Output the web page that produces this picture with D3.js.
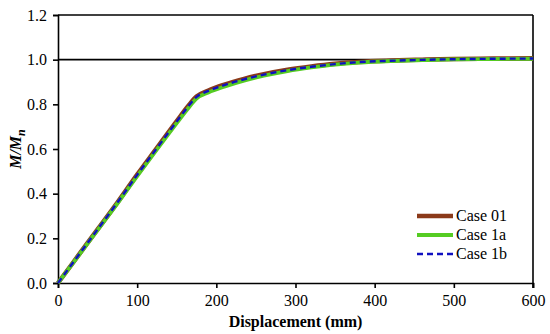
<!DOCTYPE html>
<html>
<head>
<meta charset="utf-8">
<script src="https://cdn.jsdelivr.net/npm/d3@7"></script>
</head>
<body style="margin:0; background:#fff">
<div id="chart"></div>
<script>
  // displacement (mm) and normalised moment M/Mn
  let displacement = [0, 25, 50, 75, 100, 125, 150, 165, 175, 190, 210, 235, 260, 290, 320, 350, 380, 420, 460, 500, 550, 600]
  let case01 = [0, 0.12, 0.24, 0.36, 0.485, 0.605, 0.725, 0.795, 0.835, 0.862, 0.888, 0.914, 0.935, 0.955, 0.97, 0.982, 0.99, 0.996, 1.0, 1.003, 1.005, 1.006]
  let case1a = [0, 0.118, 0.237, 0.356, 0.478, 0.598, 0.716, 0.785, 0.826, 0.853, 0.879, 0.906, 0.928, 0.949, 0.965, 0.978, 0.987, 0.994, 0.998, 1.001, 1.003, 1.004]
  let case1b = [0, 0.12, 0.24, 0.36, 0.484, 0.604, 0.723, 0.793, 0.833, 0.86, 0.886, 0.912, 0.933, 0.953, 0.968, 0.98, 0.989, 0.995, 0.999, 1.002, 1.004, 1.005]
  let xTicks = [0, 100, 200, 300, 400, 500, 600]
  let yTicks = [0, 0.2, 0.4, 0.6, 0.8, 1.0, 1.2]

  let width = 550
  let height = 334
  let margin = {top: 15, right: 17, bottom: 51, left: 58}
  let serif = 'Liberation Serif'

  let svg = d3.select('#chart')
              .append('svg')
                .attr('width', width)
                .attr('height', height)

  let xScale = d3.scaleLinear()
                .domain([0, 600])
                .range([margin.left, width - margin.right])

  let yScale = d3.scaleLinear()
                .domain([0, 1.2])
                .range([height - margin.bottom, margin.top])

  let xAxis = svg.append('g')
                .attr('transform', 'translate(0,' + (height - margin.bottom) + ')')
                .call(d3.axisBottom(xScale).tickValues(xTicks).tickFormat(d3.format('d')).tickSizeOuter(0).tickSize(5).tickPadding(7))

  let yAxis = svg.append('g')
                .attr('transform', 'translate(' + margin.left + ',0)')
                .call(d3.axisLeft(yScale).tickValues(yTicks).tickFormat(d3.format('.1f')).tickSizeOuter(0).tickSize(5).tickPadding(6))

  svg.selectAll('.tick text')
    .style('font-family', serif)
    .style('font-size', '16px')
    .attr('fill', '#000')
  svg.selectAll('.domain, .tick line')
    .attr('stroke', '#000')
    .attr('stroke-width', 1.6)

  // top and right frame
  svg.append('line')
    .attr('x1', xScale(0)).attr('x2', xScale(600))
    .attr('y1', yScale(1.2)).attr('y2', yScale(1.2))
    .attr('stroke', '#000').attr('stroke-width', 1.6)
  svg.append('line')
    .attr('x1', xScale(600)).attr('x2', xScale(600))
    .attr('y1', yScale(1.2)).attr('y2', yScale(0) + 5)
    .attr('stroke', '#000').attr('stroke-width', 1.6)

  // reference line at 1.0
  svg.append('line')
    .attr('x1', xScale(0)).attr('x2', xScale(600))
    .attr('y1', yScale(1)).attr('y2', yScale(1))
    .attr('stroke', '#000').attr('stroke-width', 1.6)

  let series = [
    {name: 'Case 01', values: case01, color: '#8b3a1a', width: 4.5, dash: null},
    {name: 'Case 1a', values: case1a, color: '#55cc22', width: 3.8, dash: null},
    {name: 'Case 1b', values: case1b, color: '#1010c0', width: 2.4, dash: '6,4'}
  ]

  let line = d3.line()
              .x((d) => { return xScale(d[0]) })
              .y((d) => { return yScale(d[1]) })
              .curve(d3.curveMonotoneX)

  series.forEach((s) => {
    svg.append('path')
      .datum(displacement.map((x, i) => { return [x, s.values[i]] }))
      .attr('d', line)
      .attr('fill', 'none')
      .attr('stroke', s.color)
      .attr('stroke-width', s.width)
      .attr('stroke-dasharray', s.dash)
  })

  // legend
  let legend = svg.append('g')
  series.forEach((s, i) => {
    let y = 216 + i * 19
    legend.append('line')
      .attr('x1', 417).attr('x2', 453)
      .attr('y1', y).attr('y2', y)
      .attr('stroke', s.color)
      .attr('stroke-width', s.width)
      .attr('stroke-dasharray', s.dash)
    legend.append('text')
      .attr('x', 456).attr('y', y + 5)
      .style('font-family', serif)
      .style('font-size', '16px')
      .text(s.name)
  })

  // axis titles
  svg.append('text')
    .attr('x', (xScale(0) + xScale(600)) / 2)
    .attr('y', 327)
    .attr('text-anchor', 'middle')
    .style('font-family', serif)
    .style('font-size', '16px')
    .style('font-weight', 'bold')
    .text('Displacement (mm)')

  let yTitle = svg.append('text')
    .attr('transform', 'translate(21,' + yScale(0.6) + ') rotate(-90)')
    .attr('text-anchor', 'middle')
    .style('font-family', serif)
    .style('font-size', '16px')
    .style('font-weight', 'bold')
    .style('font-style', 'italic')
  yTitle.append('tspan').text('M/M')
  yTitle.append('tspan').style('font-size', '12px').attr('dy', 4).text('n')
</script>
</body>
</html>
